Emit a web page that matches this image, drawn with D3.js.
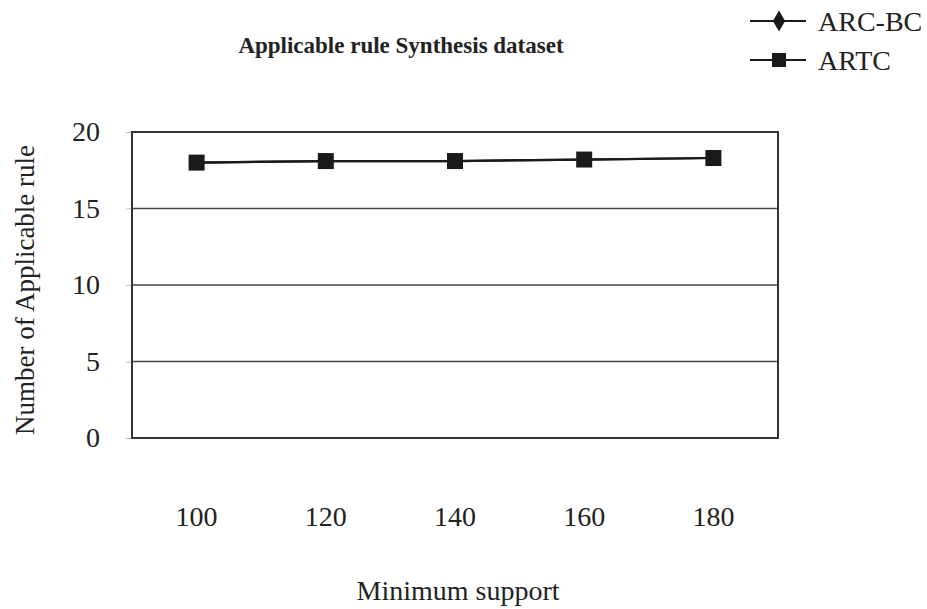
<!DOCTYPE html>
<html>
<head>
<meta charset="utf-8">
<script src="https://cdn.jsdelivr.net/npm/d3@7"></script>
<style>
  body { margin: 0; background: #fff; }
  svg { display: block; }
  svg text { font-family: 'Liberation Serif', 'Times New Roman', 'DejaVu Serif', serif; }
</style>
</head>
<body>
<svg id="chart"></svg>
<script>
const supports = ['100', '120', '140', '160', '180'];
const arcBc = [18.0, 18.1, 18.1, 18.2, 18.3];
const artc = [18.0, 18.1, 18.1, 18.2, 18.3];
const yTicks = [0, 5, 10, 15, 20];

const width = 927;
const height = 609;
const plot = { left: 132, right: 778, top: 132, bottom: 438 };

const svg = d3.select('#chart').attr('width', width).attr('height', height);

const x = d3.scaleBand().domain(supports).range([plot.left, plot.right]).padding(0);
const y = d3.scaleLinear().domain([0, 20]).range([plot.bottom, plot.top]);

// gridlines
svg.append('g')
  .selectAll('line')
  .data(yTicks)
  .join('line')
  .attr('x1', plot.left)
  .attr('x2', plot.right)
  .attr('y1', (d) => y(d))
  .attr('y2', (d) => y(d))
  .attr('stroke', '#444')
  .attr('stroke-width', 1.5);

// y axis, small ticks outside
const yAxis = svg.append('g')
  .attr('transform', `translate(${plot.left},0)`)
  .call(d3.axisLeft(y).tickValues(yTicks).tickSize(6).tickPadding(26));
yAxis.select('.domain').remove();
yAxis.selectAll('.tick line').attr('stroke', '#bbb');
yAxis.selectAll('.tick text')
  .attr('font-size', 28)
  .attr('fill', '#222');

// frame
svg.append('rect')
  .attr('x', plot.left)
  .attr('y', plot.top)
  .attr('width', plot.right - plot.left)
  .attr('height', plot.bottom - plot.top)
  .attr('fill', 'none')
  .attr('stroke', '#333')
  .attr('stroke-width', 2);

// x axis labels
const xAxis = svg.append('g')
  .attr('transform', `translate(0,${plot.bottom})`)
  .call(d3.axisBottom(x).tickSize(0).tickPadding(68));
xAxis.select('.domain').remove();
xAxis.selectAll('.tick text')
  .attr('font-size', 28)
  .attr('fill', '#222');

const cx = (d) => x(d) + x.bandwidth() / 2;

const line = d3.line()
  .x((d) => cx(d.k))
  .y((d) => y(d.v));

// ARC-BC diamonds sit underneath the ARTC squares
const series = [
  { name: 'ARC-BC', values: arcBc, shape: d3.symbolDiamond, size: 70 },
  { name: 'ARTC', values: artc, shape: d3.symbolSquare, size: 256 },
];

series.forEach((s) => {
  const pts = supports.map((k, i) => ({ k, v: s.values[i] }));
  svg.append('path')
    .datum(pts)
    .attr('d', line)
    .attr('fill', 'none')
    .attr('stroke', '#1a1a1a')
    .attr('stroke-width', 2.2);
  svg.append('g')
    .selectAll('path')
    .data(pts)
    .join('path')
    .attr('transform', (d) => `translate(${cx(d.k)},${y(d.v)})`)
    .attr('d', d3.symbol().type(s.shape).size(s.size))
    .attr('fill', '#1a1a1a');
});

// legend
const legend = svg.append('g').attr('transform', 'translate(750,0)');
const legendRows = [
  { s: series[0], yPos: 21, size: 130 },
  { s: series[1], yPos: 60, size: 196 },
];
legendRows.forEach((r) => {
  legend.append('line')
    .attr('x1', 0).attr('x2', 56)
    .attr('y1', r.yPos).attr('y2', r.yPos)
    .attr('stroke', '#1a1a1a')
    .attr('stroke-width', 2);
  legend.append('path')
    .attr('transform', `translate(29,${r.yPos})`)
    .attr('d', d3.symbol().type(r.s.shape).size(r.size))
    .attr('fill', '#1a1a1a');
  legend.append('text')
    .attr('x', 68)
    .attr('y', r.yPos + 10)
    .attr('font-size', 28)
    .attr('fill', '#222')
    .text(r.s.name);
});

// title
svg.append('text')
  .attr('x', 401)
  .attr('y', 53)
  .attr('text-anchor', 'middle')
  .attr('font-size', 23)
  .attr('font-weight', 'bold')
  .attr('fill', '#222')
  .text('Applicable rule Synthesis dataset');

// axis titles
svg.append('text')
  .attr('transform', 'translate(34,290) rotate(-90)')
  .attr('text-anchor', 'middle')
  .attr('font-size', 27)
  .attr('fill', '#222')
  .text('Number of Applicable rule');

svg.append('text')
  .attr('x', 458)
  .attr('y', 600)
  .attr('text-anchor', 'middle')
  .attr('font-size', 28)
  .attr('fill', '#222')
  .text('Minimum support');
</script>
</body>
</html>
